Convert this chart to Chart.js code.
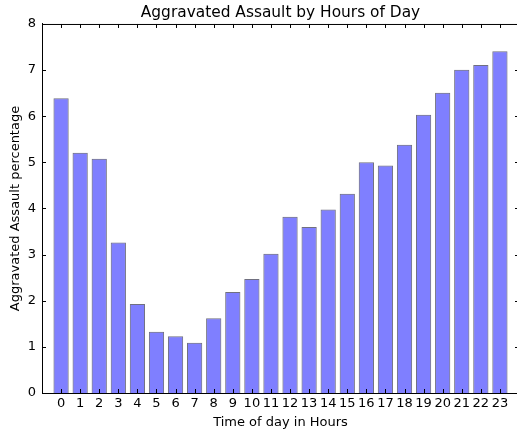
<!DOCTYPE html>
<html>
<head>
<meta charset="utf-8">
<script src="https://cdn.jsdelivr.net/npm/chart.js@4"></script>
<style>
  html, body { margin: 0; padding: 0; overflow: hidden; background: #fff; }
</style>
</head>
<body>
<canvas id="chart" width="519" height="434"></canvas>
<script>
// hours of the day and share of aggravated assaults (%)
const hours = [0, 1, 2, 3, 4, 5, 6, 7, 8, 9, 10, 11, 12, 13, 14, 15, 16, 17, 18, 19, 20, 21, 22, 23];
const assaultPct = [6.39, 5.21, 5.08, 3.26, 1.93, 1.33, 1.23, 1.09, 1.62, 2.19, 2.47, 3.02,
                    3.82, 3.60, 3.98, 4.32, 5.00, 4.93, 5.38, 6.03, 6.51, 7.01, 7.11, 7.41];
const yTicks = [0, 1, 2, 3, 4, 5, 6, 7, 8];

Chart.defaults.font.family = 'DejaVu Sans';
Chart.defaults.color = '#000';

// matplotlib style: inward ticks on all four sides + top spine
// (the right spine falls just outside the window, like in the original)
const innerTicks = {
  id: 'innerTicks',
  afterDatasetsDraw(chart) {
    const ctx = chart.ctx;
    const a = chart.chartArea;
    const xs = chart.scales.x, ys = chart.scales.y;
    ctx.save();
    ctx.strokeStyle = '#000';
    ctx.lineWidth = 1;
    ctx.beginPath();
    ctx.moveTo(a.left, a.top + 0.5);
    ctx.lineTo(a.right, a.top + 0.5);
    hours.forEach(h => {
      const px = Math.round(xs.getPixelForValue(h)) + 0.5;
      ctx.moveTo(px, a.bottom);
      ctx.lineTo(px, a.bottom - 4);
      ctx.moveTo(px, a.top);
      ctx.lineTo(px, a.top + 4);
    });
    yTicks.forEach(v => {
      const py = Math.round(ys.getPixelForValue(v)) + 0.5;
      ctx.moveTo(a.left, py);
      ctx.lineTo(a.left + 4, py);
      ctx.moveTo(a.right, py);
      ctx.lineTo(a.right - 4, py);
    });
    ctx.stroke();
    ctx.restore();
  }
};

new Chart(document.getElementById('chart'), {
  type: 'bar',
  data: {
    datasets: [{
      data: hours.map((h, i) => ({ x: h, y: assaultPct[i] })),
      backgroundColor: 'rgba(0, 0, 255, 0.5)',
      borderColor: '#707080',
      borderWidth: 1,
      categoryPercentage: 1,
      barPercentage: 0.8
    }]
  },
  options: {
    responsive: false,
    animation: false,
    layout: { padding: 0 },
    plugins: {
      legend: { display: false },
      tooltip: { enabled: false },
      title: {
        display: true,
        text: 'Aggravated Assault by Hours of Day',
        fullSize: false,
        font: { size: 15.4, weight: 'normal' },
        padding: { top: 3.5, bottom: 2 }
      }
    },
    scales: {
      x: {
        type: 'linear',
        offset: false,
        min: -1,
        max: 24,
        grid: { display: false, drawTicks: false, offset: false },
        border: { display: true, color: '#000', width: 1 },
        afterBuildTicks: scale => { scale.ticks = hours.map(h => ({ value: h })); },
        afterFit: scale => { scale.paddingLeft = 0; scale.paddingRight = 0; scale.height = 41; },
        ticks: { font: { size: 13 }, padding: 3, maxRotation: 0, autoSkip: false },
        title: {
          display: true,
          text: 'Time of day in Hours',
          font: { size: 13 },
          padding: { top: 2, bottom: 4 }
        }
      },
      y: {
        min: 0,
        max: 8,
        grid: { display: false, drawTicks: false },
        border: { display: true, color: '#000', width: 1 },
        afterBuildTicks: scale => { scale.ticks = yTicks.map(v => ({ value: v })); },
        afterFit: scale => { scale.width = 42; },
        ticks: { font: { size: 13 }, padding: 6 },
        title: {
          display: true,
          text: 'Aggravated Assault percentage',
          font: { size: 13 },
          padding: { top: 8, bottom: 4 }
        }
      }
    }
  },
  plugins: [innerTicks]
});
</script>
</body>
</html>
